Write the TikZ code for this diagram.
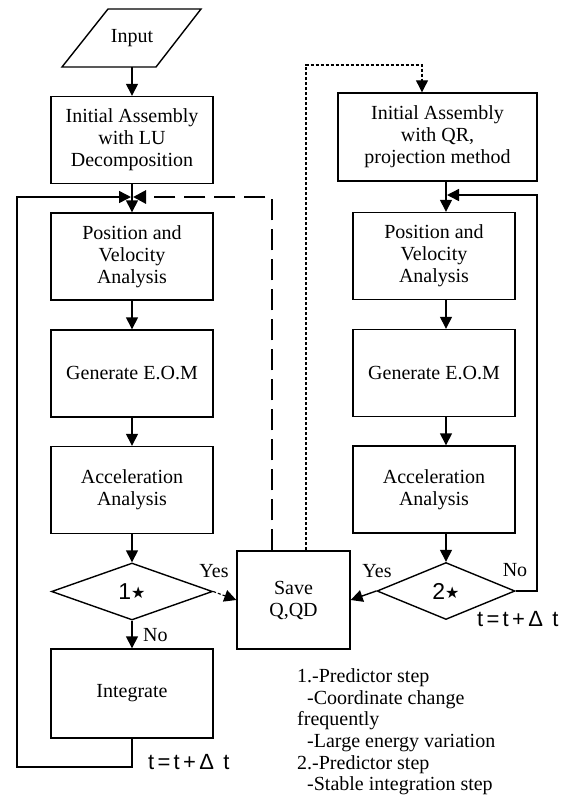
\documentclass[tikz,border=0pt]{standalone}
\usepackage{fontspec}
\setmainfont{Liberation Serif}
\newfontfamily\sansf{Liberation Sans}
\newfontfamily\sansw[LetterSpace=15]{Liberation Sans}
\newfontfamily\djv{DejaVu Sans}
\newcommand{\mystar}{{\djv\fontsize{16}{16}\selectfont\raisebox{0.5pt}{★}}}
\usetikzlibrary{arrows.meta,shapes.geometric}
\begin{document}
\begin{tikzpicture}[x=1pt,y=-1pt,
  ln/.style={line width=1.4pt},
  box/.style={draw,ln,minimum width=162pt,minimum height=87pt,align=center,inner sep=0pt,font=\fontsize{20}{22}\selectfont},
  dia/.style={draw,ln,shape=diamond,minimum height=57pt,inner sep=0pt,font=\fontsize{23}{23}\selectfont\sansf},
  tip/.style={-{Triangle[length=12pt,width=12pt]}},
  arr/.style={ln,tip},
  thickdash/.style={line width=2.8pt,dash pattern=on 21pt off 9pt,-{Triangle[length=13pt,width=13pt]}},
  dot/.style={line width=1.1pt,dash pattern=on 3pt off 2pt},
  lbl/.style={font=\fontsize{20}{22}\selectfont,inner sep=0pt},
  tlbl/.style={font=\fontsize{22}{22}\selectfont\sansw,inner sep=0pt,anchor=west},
  note/.style={font=\fontsize{20}{22}\selectfont,inner sep=0pt,anchor=base west}
]
\useasboundingbox (0,0) rectangle (584,796);

% input parallelogram
\draw[ln] (62,67) -- (108,9) -- (201,9) -- (156,67) -- cycle;
\node[lbl] (input) at (132,38) {Input};
\coordinate (inb) at (132,67);

% left column
\node[box] (lu) at (132,140) {Initial Assembly\\with LU\\Decomposition};
\node[box] (p1) at (132,256.5) {Position and\\Velocity\\Analysis};
\node[box] (g1) at (132,373.5) {Generate E.O.M};
\node[box] (a1) at (132,490) {Acceleration\\Analysis};
\node[dia,minimum width=161pt] (d1) at (132,591.5) {1\mystar};
\node[box,minimum height=89pt] (int) at (132,693.5) {Integrate};

% save
\node[box,minimum width=113pt,minimum height=98pt] (save) at (293.5,600) {Save\\Q,QD};

% right column
\node[box,minimum width=199pt,minimum height=88pt] (qr) at (437.5,137) {Initial Assembly\\with QR,\\projection method};
\node[box] (p2) at (434,256) {Position and\\Velocity\\Analysis};
\node[box] (g2) at (434,373) {Generate E.O.M};
\node[box] (a2) at (434,489.5) {Acceleration\\Analysis};
\node[dia,minimum width=138pt] (d2) at (446,591) {2\mystar};

% left arrows
\draw[arr] (inb) -- (lu.north);
\draw[arr] (lu) -- (p1);
\draw[arr] (p1) -- (g1);
\draw[arr] (g1) -- (a1);
\draw[arr] (a1) -- (d1.north);
\draw[arr] (d1.south) -- (int.north);
\node[lbl,anchor=west] (no1) at (143,635) {No};

% left loop
\coordinate (m1) at (132,197);
\coordinate (ll) at (17,767);
\coordinate (lt) at (17,197);
\draw[arr,shorten >=1pt] (int.south) |- (ll) -- (lt) -- (m1);
\node[tlbl] (t1) at (148,762) {t=t+Δ t};

% thick dashed return
\coordinate (dc) at (272,197);
\draw[thickdash,shorten >=1pt] (save.north -| dc) -- (dc) -- (m1);

% yes 1
\draw[dot,tip] (d1.east) -- (save.west);
\node[lbl] (yes1) at (214,571) {Yes};

% dotted to QR
\coordinate (q1) at (306,65);
\coordinate (q2) at (422,65);
\draw[dot,tip] (save.north -| q1) -- (q1) -- (q2) -- (qr.north -| q2);

% right arrows
\draw[arr] (d2 |- qr.south) -- (d2 |- p2.north);
\draw[arr] (d2 |- p2.south) -- (d2 |- g2.north);
\draw[arr] (d2 |- g2.south) -- (d2 |- a2.north);
\draw[arr] (d2 |- a2.south) -- (d2.north);
\draw[arr] (d2.west) -- (save.east);
\node[lbl] (yes2) at (377,571) {Yes};
\node[lbl] (no2) at (515,570) {No};

% right loop
\coordinate (rc) at (537,195);
\coordinate (m2) at (446,195);
\draw[arr,shorten >=1pt] (d2.east) -| (rc) -- (m2);
\node[tlbl] (t2) at (477,619) {t=t+Δ t};

% notes
\node[note] (n1) at (297,682) {1.-Predictor step};
\node[note] (n2) at (307,704) {-Coordinate change};
\node[note] (n3) at (297,725.5) {frequently};
\node[note] (n4) at (307,747) {-Large energy variation};
\node[note] (n5) at (297,769) {2.-Predictor step};
\node[note] (n6) at (307,790.5) {-Stable integration step};
\end{tikzpicture}
\end{document}
